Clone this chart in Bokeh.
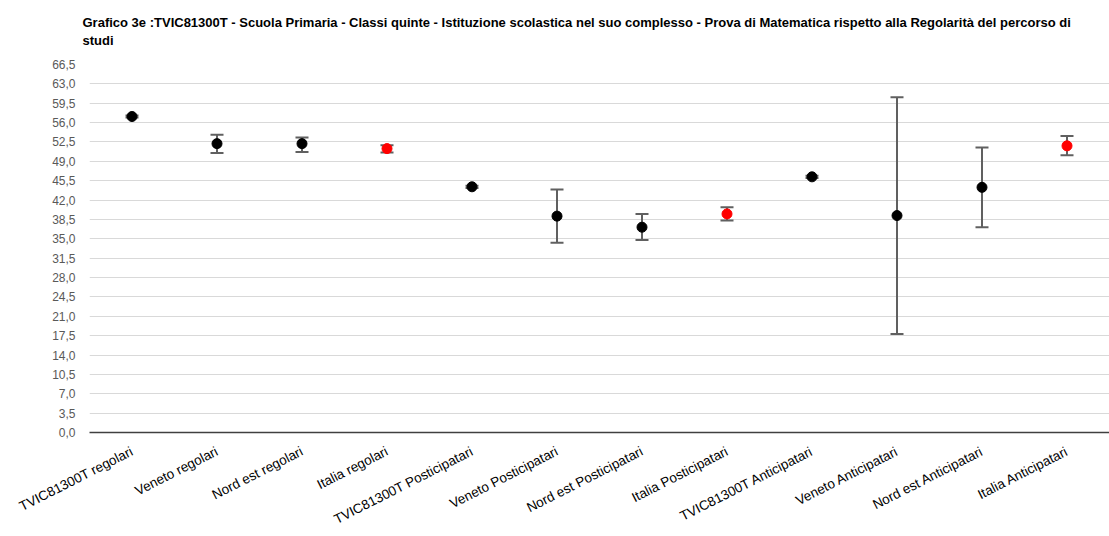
from bokeh.plotting import figure
from bokeh.models import (ColumnDataSource, Whisker, TeeHead, FixedTicker,
                          CustomJSTickFormatter, Range1d)
from bokeh.embed import file_html
from bokeh.resources import INLINE

title_text = ("Grafico 3e :TVIC81300T - Scuola Primaria - Classi quinte - Istituzione scolastica "
              "nel suo complesso - Prova di Matematica rispetto alla Regolarità del percorso di\nstudi")

categories = ["TVIC81300T regolari", "Veneto regolari", "Nord est regolari", "Italia regolari",
              "TVIC81300T Posticipatari", "Veneto Posticipatari", "Nord est Posticipatari",
              "Italia Posticipatari", "TVIC81300T Anticipatari", "Veneto Anticipatari",
              "Nord est Anticipatari", "Italia Anticipatari"]
values = [57.1, 52.2, 52.2, 51.3, 44.4, 39.1, 37.1, 39.5, 46.2, 39.2, 44.3, 51.8]
upper = [57.3, 53.8, 53.3, 51.9, 44.6, 43.9, 39.5, 40.7, 46.4, 60.6, 51.5, 53.6]
lower = [56.9, 50.5, 50.7, 50.6, 44.2, 34.3, 34.8, 38.3, 46.0, 17.8, 37.1, 50.1]
y_ticks = [0.0, 3.5, 7.0, 10.5, 14.0, 17.5, 21.0, 24.5, 28.0, 31.5, 35.0, 38.5, 42.0,
           45.5, 49.0, 52.5, 56.0, 59.5, 63.0, 66.5]

xs = list(range(len(categories)))
colors = ["#ff0000" if c.startswith("Italia") else "#000000" for c in categories]

src = ColumnDataSource(dict(x=xs, y=values, upper=upper, lower=lower, color=colors))

FONT = "Liberation Sans"

p = figure(width=1109, height=536, output_backend="svg", toolbar_location=None,
           x_range=Range1d(-0.5, 11.5), y_range=Range1d(0, 66.5),
           min_border_left=89, min_border_right=0, min_border_top=64, min_border_bottom=102)
p.outline_line_color = None
p.background_fill_color = "white"

p.title.text = title_text
p.title.text_font = FONT
p.title.text_font_size = "13px"
p.title.text_font_style = "bold"
p.title.text_color = "#000000"
p.title.text_line_height = 1.25
p.title.align = "left"
p.title.vertical_align = "top"
p.title.offset = -7
p.title.standoff = 28

p.scatter("x", "y", source=src, size=10, fill_color="color", line_color="color")

w = Whisker(source=src, base="x", upper="upper", lower="lower", dimension="height",
            line_color="#606060", line_width=2,
            upper_head=TeeHead(size=13, line_color="#606060", line_width=2),
            lower_head=TeeHead(size=13, line_color="#606060", line_width=2))
p.add_layout(w)

p.xgrid.grid_line_color = None
p.ygrid.grid_line_color = "#d9d9d9"
p.ygrid.grid_line_width = 1

p.yaxis.ticker = FixedTicker(ticks=y_ticks)
p.yaxis.formatter = CustomJSTickFormatter(code="return tick.toFixed(1).replace('.', ',');")
p.yaxis.axis_line_color = None
p.yaxis.major_tick_line_color = None
p.yaxis.minor_tick_line_color = None
p.yaxis.major_label_text_font = FONT
p.yaxis.major_label_text_font_size = "12px"
p.yaxis.major_label_text_color = "#595959"
p.yaxis.major_label_standoff = 8

p.xaxis.ticker = FixedTicker(ticks=xs)
p.xaxis.major_label_overrides = {i: c for i, c in zip(xs, categories)}
p.xaxis.major_label_orientation = 0.47
p.xaxis.axis_line_color = "#404040"
p.xaxis.axis_line_width = 1.5
p.xaxis.major_tick_line_color = None
p.xaxis.minor_tick_line_color = None
p.xaxis.major_label_text_font = FONT
p.xaxis.major_label_text_font_size = "13.5px"
p.xaxis.major_label_text_color = "#000000"
p.xaxis.major_label_standoff = 12

open("out.html", "w").write(file_html(p, INLINE))
